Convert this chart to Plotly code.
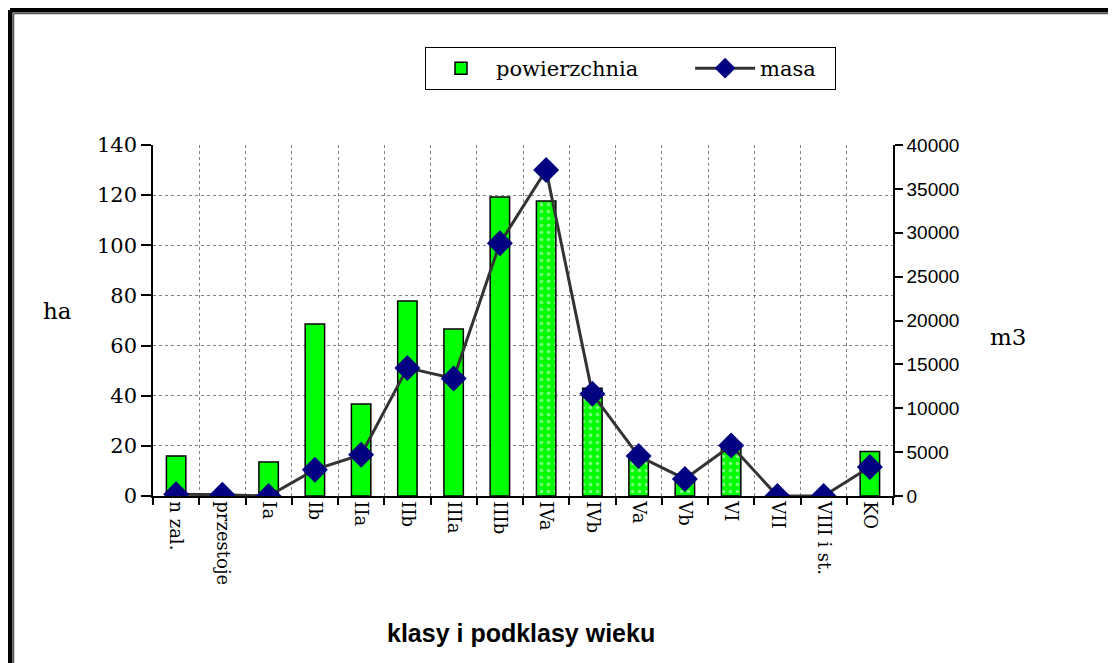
import plotly.graph_objects as go

categories = ["n zal.", "przestoje", "Ia", "Ib", "IIa", "IIb", "IIIa", "IIIb",
              "IVa", "IVb", "Va", "Vb", "VI", "VII", "VIII i st.", "KO"]
powierzchnia = [16.0, 0, 13.6, 68.6, 36.7, 77.8, 66.6, 119.3,
                117.7, 43.0, 15.0, 6.8, 20.0, 0, 0, 17.7]
masa = [200, 150, 0, 3000, 4700, 14600, 13400, 28800,
        37150, 11650, 4550, 1950, 5750, 0, 0, 3300]
dotted = ["", "", "", "", "", "", "", "", ".", ".", ".", ".", ".", "", "", ""]

OFF = 8  # page body margin
W, H = 1116 - OFF, 663 - OFF
L, R, T, B = 153, 893, 145, 496  # plot area, page pixels


def px(x):
    return (x - L) / (R - L)


def py(y):
    return (B - y) / (B - T)


SERIF = "DejaVu Serif"
SANS = "Liberation Sans"
NB = "\u00a0"

fig = go.Figure()
fig.add_trace(go.Bar(
    x=categories, y=powierzchnia, name="powierzchnia" + NB * 7, width=0.42,
    marker=dict(color="#00FF00", line=dict(color="black", width=1.5),
                pattern=dict(shape=dotted, fgcolor="white", bgcolor="#00FF00",
                             size=7, solidity=0.2)),
    yaxis="y",
))
fig.add_trace(go.Scatter(
    x=categories, y=masa, name="masa" + NB * 2, mode="lines+markers",
    line=dict(color="#333333", width=3),
    marker=dict(symbol="diamond", size=20, color="#000080"),
    yaxis="y2",
))

fig.update_layout(
    width=W, height=H,
    margin=dict(l=L - OFF, r=W - (R - OFF), t=T - OFF, b=H - (B - OFF)),
    paper_bgcolor="white", plot_bgcolor="white",
    font=dict(family=SERIF, color="black"),
    showlegend=True,
    legend=dict(orientation="h", x=px(425), y=py(47), xanchor="left", yanchor="top",
                bordercolor="black", borderwidth=1, bgcolor="white",
                font=dict(family=SERIF, size=21, color="black"),
                itemwidth=60, traceorder="normal"),
    xaxis=dict(type="category", range=[-0.5, 15.5], tickson="boundaries",
               showgrid=True, gridcolor="#808080", griddash="dot", gridwidth=1,
               ticks="outside", ticklen=7, tickcolor="black", tickwidth=1.5,
               showline=True, linecolor="black", linewidth=1.5,
               tickangle=90, tickfont=dict(family=SERIF, size=18, color="black")),
    yaxis=dict(range=[0, 140], dtick=20, showgrid=True, gridcolor="#808080",
               griddash="dot", gridwidth=1, zeroline=False,
               ticks="outside", ticklen=10, tickcolor="black", tickwidth=1.5,
               showline=True, linecolor="black", linewidth=1.5,
               tickfont=dict(family=SERIF, size=21, color="black")),
    yaxis2=dict(range=[0, 40000], dtick=5000, overlaying="y", side="right",
                showgrid=False, zeroline=False, tickformat="d",
                ticks="outside", ticklen=8, tickcolor="black", tickwidth=1.5,
                showline=True, linecolor="black", linewidth=1.5,
                tickfont=dict(family=SANS, size=19, color="black")),
)

fig.add_annotation(text="ha", x=px(57), y=py(311), xref="paper", yref="paper",
                   xanchor="center", yanchor="middle",
                   showarrow=False, font=dict(family=SERIF, size=23, color="black"))
fig.add_annotation(text="m3", x=px(1008), y=py(337), xref="paper", yref="paper",
                   xanchor="center", yanchor="middle",
                   showarrow=False, font=dict(family=SERIF, size=23, color="black"))
fig.add_annotation(text="<b>klasy i podklasy wieku</b>", x=px(521), y=py(633),
                   xref="paper", yref="paper", xanchor="center", yanchor="middle",
                   showarrow=False, font=dict(family=SANS, size=25, color="black"))

# frame (top and left edges visible)
fig.add_shape(type="line", xref="paper", yref="paper", x0=px(10), x1=px(1130),
              y0=py(10), y1=py(10), line=dict(color="black", width=5))
fig.add_shape(type="line", xref="paper", yref="paper", x0=px(10), x1=px(10),
              y0=py(10), y1=py(680), line=dict(color="black", width=5))
fig.add_shape(type="line", xref="paper", yref="paper", x0=px(13.5), x1=px(1130),
              y0=py(13.5), y1=py(13.5), line=dict(color="#555555", width=1.5))
fig.add_shape(type="line", xref="paper", yref="paper", x0=px(13.5), x1=px(13.5),
              y0=py(13.5), y1=py(680), line=dict(color="#555555", width=1.5))

fig.write_html("out.html")
